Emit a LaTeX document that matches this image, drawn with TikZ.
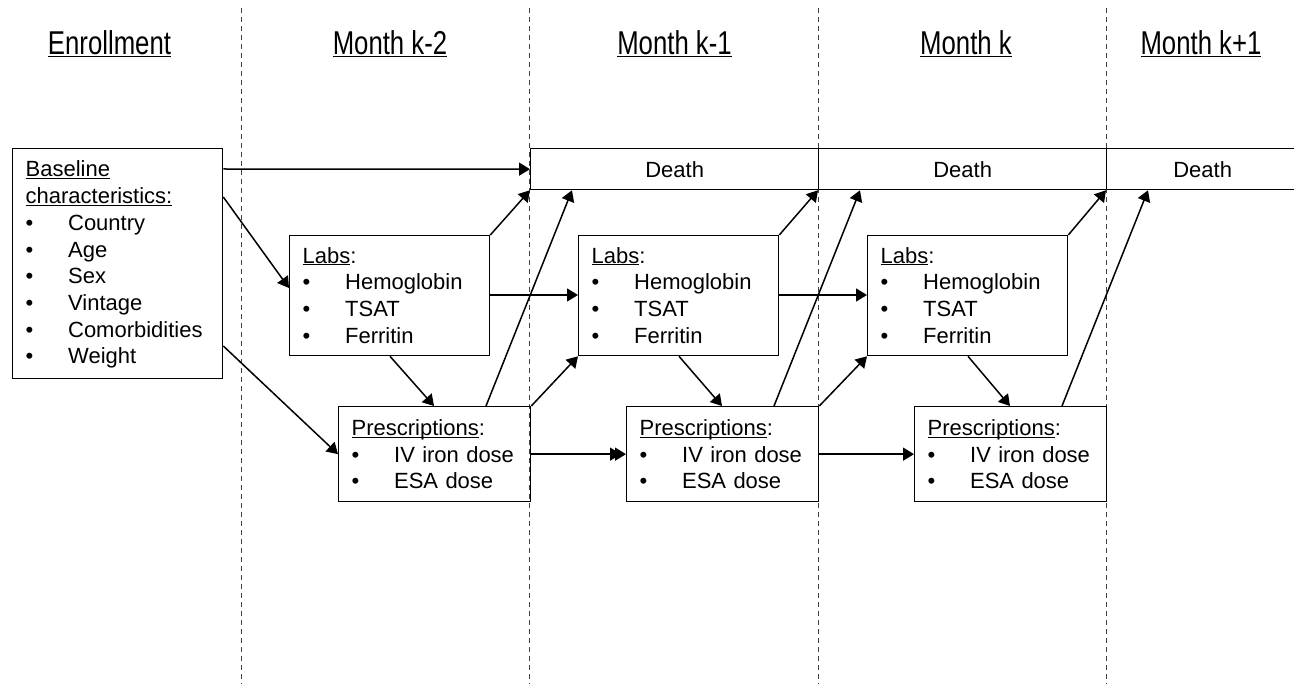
\documentclass[tikz,border=0pt]{standalone}
\usepackage{fontspec}
\usepackage{graphicx}
\setmainfont{Liberation Sans}
\usetikzlibrary{arrows.meta,calc}
\newcommand\itm[1]{\makebox[42.5pt][l]{\textbullet}#1}
\newcommand\ulx[1]{\underline{\smash{#1}}}
\newcommand\hd[1]{\scalebox{0.78}[1]{\underline{\smash{#1}}}}
\begin{document}
\begin{tikzpicture}[x=1pt,y=-1pt,
  box/.style={draw,line width=1.3pt,rectangle,anchor=north west,inner ysep=0pt,inner xsep=13pt,align=left,font=\fontsize{22}{26.7}\selectfont},
  arr/.style={line width=1.5pt,-{Triangle[length=11pt,width=13pt]}},
  arrtwo/.style={line width=1.5pt,-{Triangle[length=11pt,width=13pt,sep=-6pt]Triangle[length=11pt,width=13pt]}},
  sep/.style={draw=black!75,line width=1pt,dash pattern=on 5pt off 4pt},
  hdr/.style={font=\fontsize{33}{36}\selectfont,inner sep=0pt,anchor=base}]
\useasboundingbox (0,0) rectangle (1294,687);

% headers
\node[hdr] (h0) at (109.5,55) {\hd{Enrollment}};
\node[hdr] (h1) at (390,55) {\hd{Month k-2}};
\node[hdr] (h2) at (674.5,55) {\hd{Month k-1}};
\node[hdr] (h3) at (966,55) {\hd{Month k}};
\node[hdr] (h4) at (1201,55) {\hd{Month k+1}};

% separators
\foreach \x/\n in {241/s1,529/s2,818/s3,1106/s4}{
  \coordinate (\n a) at (\x,8);
  \coordinate (\n b) at (\x,684);
  \draw[sep] (\n a) -- (\n b);
}

% baseline box
\node[box,text width=184pt,minimum height=230pt] (base) at (12,148)
 {\rule{0pt}{18pt}\ulx{Baseline}\\ \ulx{characteristics:}\\ \itm{Country}\\ \itm{Age}\\ \itm{Sex}\\ \itm{Vintage}\\ \itm{Comorbidities}\\ \itm{Weight}};

% death boxes
\node[box,text width=262pt,minimum height=41pt,align=center] (d1) at (530,148) {Death};
\node[box,text width=262pt,minimum height=41pt,align=center] (d2) at (818,148) {Death};
\node[box,text width=166pt,minimum height=41pt,align=center] (d3) at (1106,148) {Death};

% labs and prescriptions
\foreach \i/\lx/\px in {1/289/338,2/578/626,3/867/914}{
  \node[box,text width=174pt,minimum height=120pt] (lab\i) at (\lx,235)
    {\rule{0pt}{15.5pt}\ulx{Labs}:\\ \itm{Hemoglobin}\\ \itm{TSAT}\\ \itm{Ferritin}};
  \node[box,text width=166pt,minimum height=95pt] (pre\i) at (\px,406)
    {\rule{0pt}{16pt}\ulx{Prescriptions}:\\ \itm{IV iron dose}\\ \itm{ESA dose}};
}

% arrows from baseline
\draw[arr] ([yshift=-21pt]base.north east) -- (d1.west);
\draw[arr] ([yshift=-49pt]base.north east) -- ([yshift=-53pt]lab1.north west);
\draw[arr] ([yshift=-198pt]base.north east) -- (pre1.west);

% month arrows
\foreach \i/\j in {1/2,2/3}{
  \draw[arr] ([yshift=-60pt]lab\i.north east) -- ([yshift=-60pt]lab\j.north west);
  \draw[arr] (pre\i.north east) -- (lab\j.south west);
}
\draw[arrtwo] (pre1.east) -- (pre2.west);
\draw[arr] (pre2.east) -- (pre3.west);

\foreach \i in {1,2,3}{
  \draw[arr] (lab\i.north east) -- (d\i.south west);
  \draw[arr] ([xshift=101pt]lab\i.south west) -- ([xshift=96pt]pre\i.north west);
  \draw[arr] ([xshift=148pt]pre\i.north west) -- ([xshift=42pt]d\i.south west);
}
\end{tikzpicture}
\end{document}
